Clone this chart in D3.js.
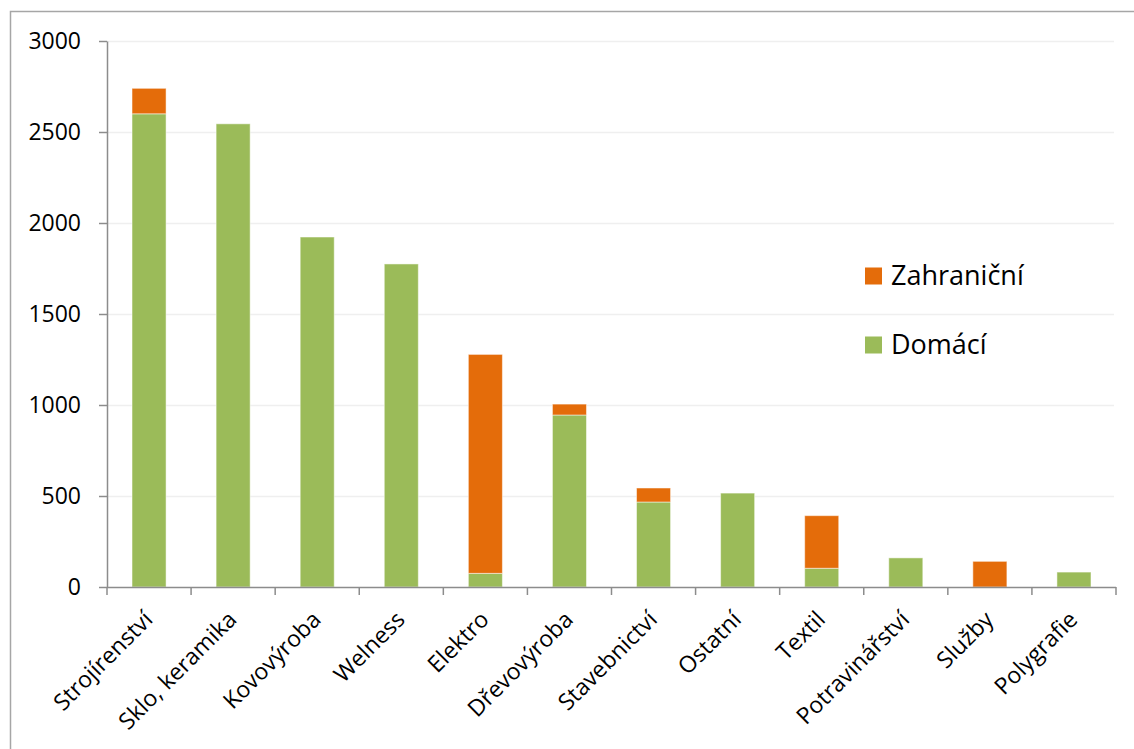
<!DOCTYPE html>
<html lang="cs">
<head>
<meta charset="utf-8">
<title>Domácí a zahraniční</title>
<style>
  body { margin: 0; background: #fff; }
  text { font-family: "Open Sans", sans-serif; fill: #000; }
</style>
</head>
<body>
<svg width="1134" height="749"></svg>
<script src="https://d3js.org/d3.v7.min.js"></script>
<script>
// data
var categories = ["Strojírenství", "Sklo, keramika", "Kovovýroba", "Welness", "Elektro",
  "Dřevovýroba", "Stavebnictví", "Ostatní", "Textil", "Potravinářství", "Služby", "Polygrafie"];
var domaci =      [2600, 2545, 1923, 1775, 75, 945, 467, 516, 103, 160, 0, 82];
var zahranicni =  [140, 0, 0, 0, 1203, 60, 77, 0, 289, 0, 141, 0];
var seriesNames = ["Domácí", "Zahraniční"];
var colors = ["#9bbb59", "#e46c0a"];
var yTicks = [0, 500, 1000, 1500, 2000, 2500, 3000];

var svg = d3.select("svg");

// outer chart frame (runs off the right / bottom edge)
svg.append("path")
  .attr("d", "M10.5,749 V11.5 H1134")
  .attr("fill", "none")
  .attr("stroke", "#a6a6a6")
  .attr("stroke-width", 1.5);

var pLeft = 107, pRight = 1116, pTop = 41, pBottom = 587;

var x = d3.scaleBand().domain(categories).range([pLeft, pRight]).paddingInner(0.595).paddingOuter(0.2975);
var y = d3.scaleLinear().domain([0, 3000]).range([pBottom, pTop]);

// gridlines
svg.append("g")
  .selectAll("line")
  .data(yTicks.slice(1))
  .join("line")
    .attr("x1", pLeft).attr("x2", 1114)
    .attr("y1", function(d) { return Math.round(y(d)) + 0.5; })
    .attr("y2", function(d) { return Math.round(y(d)) + 0.5; })
    .attr("stroke", "#efefef")
    .attr("stroke-width", 1.5);

// stacked bars
var rows = categories.map(function(c, i) { return { cat: c, "Domácí": domaci[i], "Zahraniční": zahranicni[i] }; });
var stacked = d3.stack().keys(seriesNames)(rows);

svg.append("g")
  .selectAll("g")
  .data(stacked)
  .join("g")
    .attr("fill", function(d, i) { return colors[i]; })
  .selectAll("rect")
  .data(function(d) { return d.filter(function(p) { return p[1] > p[0]; }); })
  .join("rect")
    .attr("x", function(d) { return x(d.data.cat); })
    .attr("width", x.bandwidth())
    .attr("y", function(d) { return y(d[1]); })
    .attr("height", function(d) { return y(d[0]) - y(d[1]); })
    .attr("stroke", "#fff")
    .attr("stroke-opacity", 0.5)
    .attr("stroke-width", 1);

// y axis
var yAxis = svg.append("g")
  .attr("transform", "translate(" + pLeft + ",0)")
  .call(d3.axisLeft(y).tickValues(yTicks).tickFormat(d3.format("d"))
    .tickSize(8).tickPadding(18).tickSizeOuter(0));
yAxis.select(".domain").attr("stroke", "#8c8c8c").attr("stroke-width", 1.5);
yAxis.selectAll(".tick line").attr("stroke", "#8c8c8c").attr("stroke-width", 1.5);
yAxis.selectAll("text").style("font-size", "23px").attr("fill", "#000");

// x axis: ticks at band boundaries
var xBounds = d3.range(categories.length + 1).map(function(i) { return pLeft + i * (pRight - pLeft) / categories.length; });
var xAxisG = svg.append("g");
xAxisG.append("line")
  .attr("x1", pLeft).attr("x2", pRight)
  .attr("y1", pBottom + 0.5).attr("y2", pBottom + 0.5)
  .attr("stroke", "#8c8c8c").attr("stroke-width", 1.5);
xAxisG.selectAll(".xt")
  .data(xBounds)
  .join("line")
    .attr("class", "xt")
    .attr("x1", function(d) { return d; }).attr("x2", function(d) { return d; })
    .attr("y1", pBottom).attr("y2", pBottom + 8)
    .attr("stroke", "#8c8c8c").attr("stroke-width", 1.5);

xAxisG.selectAll(".xl")
  .data(categories)
  .join("text")
    .attr("class", "xl")
    .attr("text-anchor", "end")
    .style("font-size", "23px")
    .attr("transform", function(d) {
      var cx = x(d) + x.bandwidth() / 2 + 5;
      return "translate(" + cx + "," + (pBottom + 34) + ") rotate(-45)";
    })
    .text(function(d) { return d; });

// legend
var legend = svg.append("g");
var legendItems = [{ name: "Zahraniční", color: colors[1], y: 276 }, { name: "Domácí", color: colors[0], y: 345 }];
var li = legend.selectAll("g").data(legendItems).join("g")
  .attr("transform", function(d) { return "translate(865," + d.y + ")"; });
li.append("rect").attr("x", 0).attr("y", -8.5).attr("width", 17).attr("height", 17)
  .attr("fill", function(d) { return d.color; });
li.append("text").attr("x", 26).attr("dy", "0.35em").style("font-size", "27px")
  .text(function(d) { return d.name; });
</script>
</body>
</html>
